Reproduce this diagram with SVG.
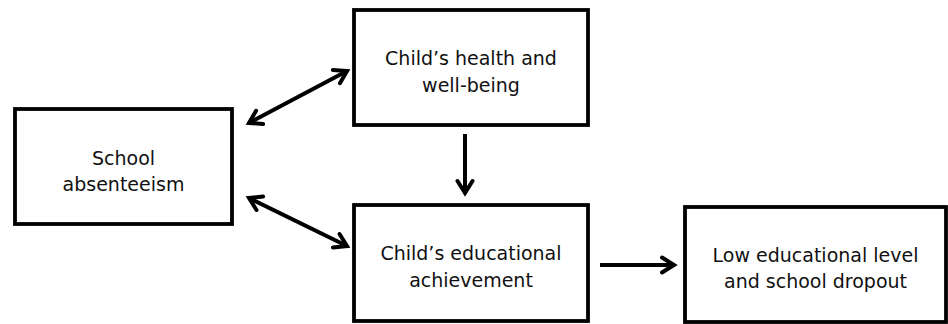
<svg xmlns="http://www.w3.org/2000/svg" width="948" height="324" viewBox="0 0 948 324">
  <style>
    .box { fill: #ffffff; stroke: #000000; stroke-width: 3.8; }
    .lbl { font-family: "DejaVu Sans", Verdana, "Liberation Sans", sans-serif; font-size: 19px; fill: #111111; text-anchor: middle; }
    .arrow { stroke: #000000; stroke-width: 4; fill: none; }
  </style>
  <defs>
    <marker id="head" viewBox="0 0 20 20" refX="16" refY="10" markerWidth="20" markerHeight="20" markerUnits="userSpaceOnUse" orient="auto-start-reverse">
      <path d="M4,2.5 L16,10 L4,17.5" fill="none" stroke="#000" stroke-width="4" stroke-linecap="round" stroke-linejoin="miter"/>
    </marker>
  </defs>
  <rect width="948" height="324" fill="#ffffff"/>

  <g id="connectors">
    <line class="arrow" x1="249" y1="123" x2="347" y2="71" marker-start="url(#head)" marker-end="url(#head)"/>
    <line class="arrow" x1="249" y1="198" x2="347" y2="246" marker-start="url(#head)" marker-end="url(#head)"/>
    <line class="arrow" x1="465" y1="134" x2="465" y2="193" marker-end="url(#head)"/>
    <line class="arrow" x1="600" y1="265" x2="674" y2="265" marker-end="url(#head)"/>
  </g>

  <g id="school-absenteeism">
    <rect class="box" x="15" y="109" width="217" height="115"/>
    <text class="lbl" x="123.5" y="165">School</text>
    <text class="lbl" x="123.5" y="191">absenteeism</text>
  </g>

  <g id="health">
    <rect class="box" x="354" y="10" width="234" height="115"/>
    <text class="lbl" x="471" y="65">Child’s health and</text>
    <text class="lbl" x="471" y="92">well-being</text>
  </g>

  <g id="achievement">
    <rect class="box" x="354" y="205" width="234" height="116"/>
    <text class="lbl" x="471" y="260">Child’s educational</text>
    <text class="lbl" x="471" y="287">achievement</text>
  </g>

  <g id="dropout">
    <rect class="box" x="685" y="207" width="261" height="115"/>
    <text class="lbl" x="815.5" y="262">Low educational level</text>
    <text class="lbl" x="815.5" y="288">and school dropout</text>
  </g>
</svg>
